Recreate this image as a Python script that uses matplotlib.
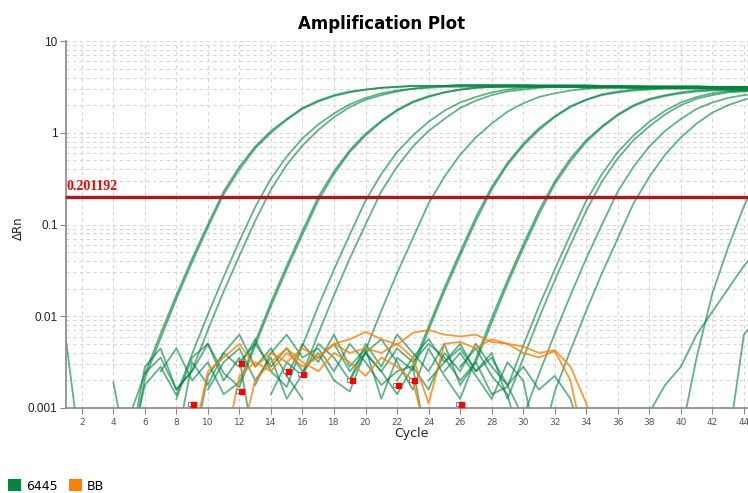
import numpy as np
import matplotlib
matplotlib.use("Agg")
import matplotlib.pyplot as plt
from matplotlib.patches import Patch
from matplotlib.ticker import LogLocator, NullFormatter

# ---------------- data (log10 of ΔRn per cycle; None = negative, not drawn) -------------
# each well: first cycle + list of values for consecutive cycles
g01_start = 1
g01 = [-2.26, -3.60, None, None, -3.10, -2.63, -2.19, -1.77, -1.37, -1.00, -0.64, -0.37, -0.15, 0.02,
       0.15, 0.27, 0.35, 0.41, 0.45, 0.47, 0.49, 0.50, 0.51, 0.51, 0.51, 0.52, 0.52, 0.52, 0.52, 0.52,
       0.52, 0.52, 0.52, 0.52, 0.51, 0.51, 0.51, 0.51, 0.51, 0.51, 0.51, 0.50, 0.50, 0.50, 0.50]
g02_start = 3
g02 = [None, -2.72, -3.60, -2.68, -2.24, -1.81, -1.41, -1.03, -0.67, -0.40, -0.17, 0.00, 0.14, 0.26,
       0.34, 0.40, 0.44, 0.47, 0.49, 0.50, 0.51, 0.51, 0.51, 0.52, 0.52, 0.52, 0.52, 0.52, 0.51, 0.51,
       0.51, 0.51, 0.51, 0.51, 0.51, 0.50, 0.50, 0.50, 0.50, 0.50, 0.50, 0.50, 0.49]
g03_start = 5
g03 = [-3.50, -2.75, -2.55, -2.86, -2.41, -1.98, -1.57, -1.18, -0.81, -0.50, -0.26, -0.06, 0.09, 0.21,
       0.31, 0.38, 0.43, 0.46, 0.48, 0.50, 0.51, 0.51, 0.51, 0.51, 0.51, 0.51, 0.51, 0.51, 0.51, 0.51,
       0.50, 0.50, 0.50, 0.50, 0.50, 0.50, 0.50, 0.50, 0.50, 0.50, 0.49]
g04_start = 6
g04 = [-2.62, -2.45, -2.80, -2.59, -2.15, -1.73, -1.34, -0.96, -0.62, -0.35, -0.14, 0.03, 0.17, 0.28,
       0.36, 0.41, 0.45, 0.48, 0.49, 0.50, 0.50, 0.50, 0.50, 0.50, 0.50, 0.50, 0.50, 0.50, 0.49, 0.49,
       0.49, 0.49, 0.49, 0.49, 0.49, 0.49, 0.49, 0.49, 0.48, 0.48]
g05_start = 7
g05 = [-2.60, -2.35, -2.70, -2.50, -2.85, -2.72, -2.28, -1.85, -1.45, -1.07, -0.70, -0.42, -0.19, -0.01,
       0.13, 0.25, 0.34, 0.40, 0.44, 0.47, 0.49, 0.50, 0.51, 0.51, 0.51, 0.51, 0.51, 0.51, 0.51, 0.51,
       0.50, 0.50, 0.50, 0.50, 0.50, 0.50, 0.50, 0.50, 0.50]
g06_start = 8
g06 = [-2.90, -2.45, -2.30, -2.62, -2.77, -2.32, -1.89, -1.49, -1.11, -0.74, -0.45, -0.21, -0.03, 0.12,
       0.24, 0.33, 0.39, 0.44, 0.47, 0.49, 0.50, 0.50, 0.50, 0.50, 0.50, 0.50, 0.50, 0.50, 0.50, 0.49,
       0.49, 0.49, 0.49, 0.49, 0.49, 0.49, 0.49, 0.49]
g07_start = 9
g07 = [-3.50, -2.65, -2.40, -2.55, -2.25, -2.60, -2.77, -2.32, -1.89, -1.49, -1.11, -0.74, -0.45, -0.21,
       -0.03, 0.12, 0.24, 0.33, 0.39, 0.44, 0.47, 0.49, 0.50, 0.50, 0.50, 0.50, 0.50, 0.50, 0.50, 0.50,
       0.49, 0.49, 0.49, 0.49, 0.49, 0.49, 0.49]
g08_start = 10
g08 = [-2.80, -2.50, -2.35, -2.70, -2.45, -2.90, -2.63, -2.19, -1.77, -1.37, -1.00, -0.64, -0.37, -0.15,
       0.02, 0.15, 0.27, 0.35, 0.41, 0.45, 0.47, 0.49, 0.50, 0.50, 0.50, 0.50, 0.50, 0.49, 0.49, 0.49,
       0.49, 0.49, 0.49, 0.49, 0.48, 0.48]
g09_start = 12
g09 = [-2.50, -2.30, -2.55, -2.35, -2.60, -2.40, -2.70, -2.82, -2.37, -1.94, -1.53, -1.15, -0.77, -0.48,
       -0.24, -0.05, 0.10, 0.23, 0.32, 0.39, 0.43, 0.46, 0.48, 0.49, 0.49, 0.49, 0.49, 0.49, 0.49, 0.49,
       0.48, 0.48, 0.48, 0.48]
g10_start = 13
g10 = [-2.75, -2.40, -2.20, -2.45, -2.35, -2.60, -2.30, -2.50, -2.75, -2.60, -2.54, -2.11, -1.69, -1.30,
       -0.92, -0.59, -0.33, -0.12, 0.05, 0.18, 0.29, 0.36, 0.42, 0.45, 0.47, 0.48, 0.49, 0.49, 0.49,
       0.49, 0.48, 0.48, 0.48]
g11_start = 15
g11 = [-2.65, -2.30, -2.50, -2.20, -2.55, -2.35, -2.90, -2.45, -2.59, -2.15, -1.73, -1.34, -0.96, -0.62,
       -0.35, -0.14, 0.03, 0.17, 0.28, 0.36, 0.41, 0.44, 0.46, 0.47, 0.48, 0.48, 0.48, 0.48, 0.47,
       0.47, 0.47]
g12_start = 17
g12 = [-2.45, -2.30, -2.60, -2.40, -2.25, -2.50, -2.80, -2.35, -2.65, -2.90, -2.46, -2.02, -1.61, -1.22,
       -0.85, -0.53, -0.28, -0.08, 0.07, 0.20, 0.30, 0.37, 0.41, 0.44, 0.46, 0.47, 0.47, 0.47, 0.47]
g13_start = 19
g13 = [-2.70, -2.30, -2.55, -2.20, -2.40, -2.60, -2.30, -2.75, -2.50, -2.07, -1.65, -1.26, -0.89, -0.56,
       -0.31, -0.10, 0.06, 0.19, 0.29, 0.36, 0.40, 0.43, 0.45, 0.46, 0.46, 0.46, 0.46]
g14_start = 20
g14 = [-2.40, -2.60, -2.35, -2.50, -2.30, -2.45, -2.70, -2.50, -2.85, -2.77, -2.32, -1.89, -1.49, -1.11,
       -0.74, -0.45, -0.21, -0.03, 0.12, 0.24, 0.33, 0.39, 0.43, 0.45, 0.46, 0.47]
g15_start = 22
g15 = [-2.70, -2.45, -2.25, -2.50, -2.35, -2.60, -2.40, -2.90, -2.46, -2.02, -1.61, -1.22, -0.85, -0.53,
       -0.28, -0.08, 0.07, 0.20, 0.30, 0.37, 0.41, 0.44, 0.45, 0.46]
g16_start = 23
g16 = [-2.55, -2.80, -2.40, -2.60, -2.30, -2.55, -2.75, -3.10, -2.63, -2.19, -1.77, -1.37, -1.00, -0.64,
       -0.37, -0.15, 0.02, 0.15, 0.26, 0.33, 0.38, 0.41, 0.43]
g17_start = 25
g17 = [-2.60, -2.40, -2.65, -2.90, -2.50, -2.70, -3.50, -2.82, -2.37, -1.94, -1.53, -1.15, -0.77, -0.48,
       -0.24, -0.05, 0.10, 0.22, 0.30, 0.36, 0.40]
g18_start = 26
g18 = [-2.55, -2.35, -2.65, -2.85, -3.50, None, None, None, None, None, None, None, None, None,
       -3.30, -2.45, -1.75, -1.25, -0.80, -0.45]
g19_start = 37
g19 = [None, -3.05, -2.75, -2.55, -2.20, -1.95, -1.70, -1.45, -1.25]
g20_start = 43
g20 = [-3.40, -2.20, -2.00]
gn1_start = 5
gn1 = [-3.50, -2.55, -2.35, -2.80, -2.60, -2.30, -2.70, -2.45, -3.50]
gn2_start = 8
gn2 = [-3.40, -2.50, -2.75, -2.40, -2.20, -2.55, -2.35, -2.65, -2.90, None]
gn3_start = 14
gn3 = [-2.85, -2.50, -2.65, -2.30, -2.45, -2.70, -2.40, -2.60, -2.85, -2.55, -3.50]
gn4_start = 24
gn4 = [-2.70, -2.50, -2.30, -2.60, -2.45, -2.75, -2.55, -2.80, -2.65, -2.90, -3.50]

o1_start = 9
o1 = [-3.40, -2.60, -2.45, -2.30, -2.55, -2.40, -2.50, -2.35, -2.45, -2.30, -2.25, -2.17, -2.25, -2.31,
      -2.18, -2.15, -2.20, -2.22, -2.20, -2.28, -2.30, -2.33, -2.40, -2.37, -2.55, -2.95, -3.50]
o2_start = 11
o2 = [-3.50, -2.65, -2.50, -2.60, -2.40, -2.55, -2.45, -2.30, -2.40, -2.35, -2.40, -2.30, -2.45, -2.95,
      -2.30, -2.28, -2.35, -2.25, -2.30, -2.40, -2.45, -2.38, -2.70, -3.50]
o3_start = 12
o3 = [-3.40, -2.70, -2.50, -2.35, -2.50, -2.60, -2.40, -2.50, -2.65, -2.45, -2.55, -2.70, -3.40]

# baseline-end markers (cycle, log10 ΔRn)
marker_cycle = [9.07, 12.13, 12.13, 15.09, 16.04, 19.12, 22.05, 23.07, 26.05]
marker_log = [-2.96, -2.51, -2.81, -2.60, -2.63, -2.70, -2.75, -2.70, -2.96]

threshold = 0.201192
x_ticks = [2, 4, 6, 8, 10, 12, 14, 16, 18, 20, 22, 24, 26, 28, 30, 32, 34, 36, 38, 40, 42, 44]
y_ticks = [0.001, 0.01, 0.1, 1, 10]
y_tick_labels = ["0.001", "0.01", "0.1", "1", "10"]
series_names = ["6445", "BB"]

green_wells = [(g01_start, g01), (g02_start, g02), (g03_start, g03), (g04_start, g04),
               (g05_start, g05), (g06_start, g06), (g07_start, g07), (g08_start, g08),
               (g09_start, g09), (g10_start, g10), (g11_start, g11), (g12_start, g12),
               (g13_start, g13), (g14_start, g14), (g15_start, g15), (g16_start, g16),
               (g17_start, g17), (g18_start, g18), (g19_start, g19), (g20_start, g20),
               (gn1_start, gn1), (gn2_start, gn2), (gn3_start, gn3), (gn4_start, gn4)]
orange_wells = [(o1_start, o1), (o2_start, o2), (o3_start, o3)]

GREEN = "#00853f"
ORANGE = "#ff8000"

plt.rcParams['font.family'] = ['DejaVu Sans']

fig = plt.figure(figsize=(7.48, 4.93), dpi=100)
ax = fig.add_axes([66 / 748, 1 - 408 / 493, (748 - 66) / 748, (408 - 41) / 493])
ax.set_yscale('log')


def draw(start, vals, color, alpha):
    v = np.array(vals, dtype=float)
    x = start + np.arange(len(v))
    ax.plot(x, 10.0 ** v, color=color, lw=1.3, alpha=alpha, solid_joinstyle='round', zorder=2)


for s, v in green_wells:
    draw(s, v, GREEN, 0.62)
for s, v in orange_wells:
    draw(s, v, ORANGE, 0.8)

mc = np.array(marker_cycle)
mv = 10.0 ** np.array(marker_log)
ax.plot(mc - 0.2, mv, linestyle='none', marker='s', ms=3.2, mfc='white', mec='#888888', mew=0.8, zorder=4)
ax.plot(mc, mv, linestyle='none', marker='s', ms=3.6, mfc='#ff0000', mec='#ff0000', zorder=5)

ax.axhline(threshold, color='#b0151f', lw=2.4, zorder=6)
ax.text(1.05, threshold * 1.1, f"{threshold:.6f}", color='#ff0000', fontweight='bold',
        family='Liberation Serif', fontsize=10, va='bottom', ha='left', zorder=7)

ax.set_xlim(1, 44.26)
ax.set_ylim(0.001, 10)
ax.set_xticks(x_ticks)
ax.set_xticklabels([str(t) for t in x_ticks], fontsize=6.5, color='#555555')
ax.set_yticks(y_ticks)
ax.set_yticklabels(y_tick_labels, fontsize=8.5, color='#222222', family='Liberation Sans')
ax.yaxis.set_minor_locator(LogLocator(base=10, subs=np.arange(2, 10)))
ax.yaxis.set_minor_formatter(NullFormatter())
ax.tick_params(axis='y', which='minor', length=0)
ax.tick_params(axis='y', which='major', length=4, color='#888888', pad=2)
ax.tick_params(axis='x', which='major', length=4, color='#888888', pad=3)
ax.grid(True, which='both', axis='y', linestyle=(0, (3, 3)), color='#d6d6d6', lw=0.8, zorder=0)
ax.grid(True, which='major', axis='x', linestyle=(0, (3, 3)), color='#d6d6d6', lw=0.8, zorder=0)
ax.set_axisbelow(True)
for side in ('top', 'right'):
    ax.spines[side].set_visible(False)
for side in ('left', 'bottom'):
    ax.spines[side].set_color('#888888')
    ax.spines[side].set_linewidth(1.2)

fig.text(382 / 748, 1 - 24 / 493, "Amplification Plot", ha='center', va='center',
         fontsize=12, fontweight='bold')
fig.text(18 / 748, 1 - 228 / 493, "ΔRn", rotation=90, ha='center', va='center', fontsize=8.5,
         color='#222222')
fig.text(411 / 748, 1 - 434 / 493, "Cycle", ha='center', va='center', fontsize=9, color='#222222')

handles = [Patch(facecolor=GREEN, label=series_names[0]), Patch(facecolor=ORANGE, label=series_names[1])]
fig.legend(handles=handles, loc='center left', bbox_to_anchor=(8 / 748, 1 - 486 / 493), ncol=2,
           frameon=False, fontsize=9, handlelength=1.05, handleheight=1.05, handletextpad=0.4,
           columnspacing=0.9, borderaxespad=0, borderpad=0)

fig.savefig("out.png", dpi=100)
